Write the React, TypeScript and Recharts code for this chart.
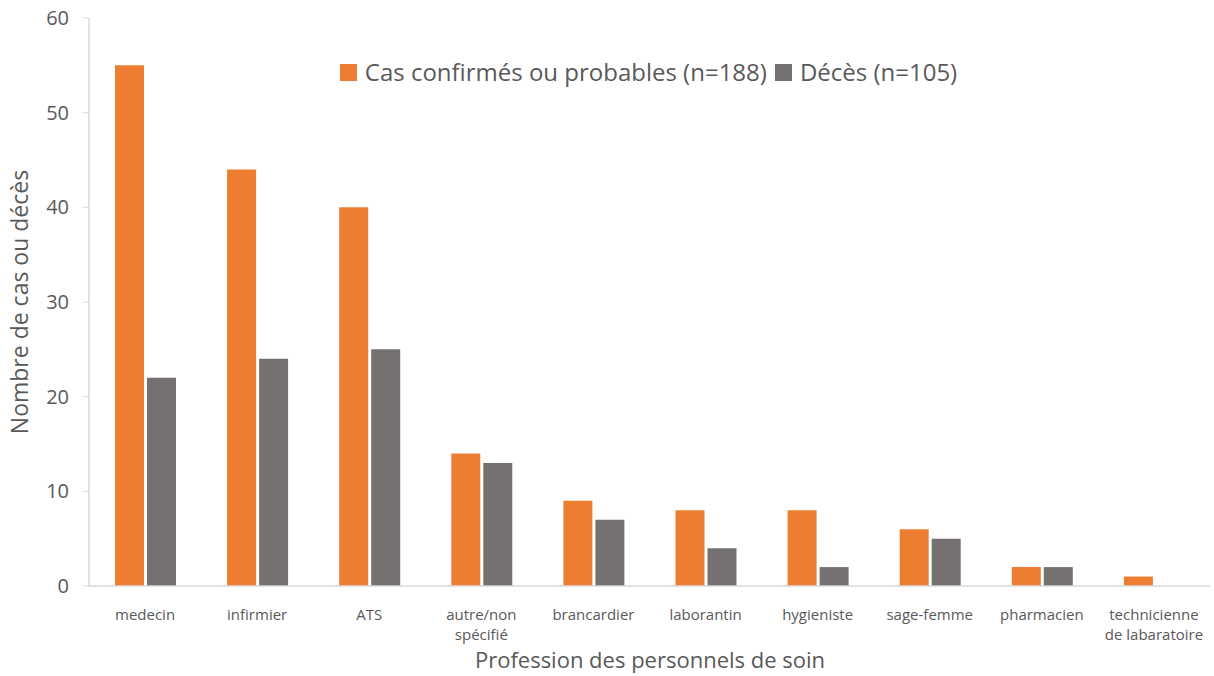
import { BarChart, Bar, XAxis, YAxis } from "recharts";

const professions = [
  "medecin",
  "infirmier",
  "ATS",
  "autre/non\nspécifié",
  "brancardier",
  "laborantin",
  "hygieniste",
  "sage-femme",
  "pharmacien",
  "technicienne\nde labaratoire",
];
const casConfirmes = [55, 44, 40, 14, 9, 8, 8, 6, 2, 1];
const deces = [22, 24, 25, 13, 7, 4, 2, 5, 2, 0];
const yTicks = [0, 10, 20, 30, 40, 50, 60];

const ORANGE = "#ED7D31";
const GREY = "#767171";
const TEXT = "#595959";
const FONT = "'Open Sans', sans-serif";

const data = professions.map((p, i) => ({
  profession: p,
  cas: casConfirmes[i],
  deces: deces[i],
}));

function CategoryTick({ x, y, payload }: any) {
  const lines = String(payload.value).split("\n");
  return (
    <text x={x} y={y + 26} textAnchor="middle" fill={TEXT} fontSize={15} fontFamily={FONT}>
      {lines.map((l, i) => (
        <tspan key={i} x={x} dy={i === 0 ? 0 : 20}>
          {l}
        </tspan>
      ))}
    </text>
  );
}

const legendItems = [
  { label: "Cas confirmés ou probables (n=188)", color: ORANGE },
  { label: "Décès (n=105)", color: GREY },
];

export default function App() {
  return (
    <div
      style={{
        position: "absolute",
        top: 0,
        left: 0,
        background: "#fff",
        width: 1214,
        height: 676,
        overflow: "hidden",
      }}
    >
      <BarChart
        width={1214}
        height={676}
        data={data}
        margin={{ top: 18, right: 4, bottom: 0, left: 0 }}
        barSize={29}
        barGap={3}
      >
        <XAxis
          dataKey="profession"
          height={90}
          axisLine={{ stroke: "#D9D9D9", strokeWidth: 1.5 }}
          tickLine={false}
          interval={0}
          tick={<CategoryTick />}
        />
        <YAxis
          width={89}
          domain={[0, 60]}
          ticks={yTicks}
          axisLine={{ stroke: "#D9D9D9", strokeWidth: 1.5 }}
          tickLine={{ stroke: "#D9D9D9" }}
          tickSize={6}
          tickMargin={14}
          tick={{ fill: TEXT, fontSize: 20, fontFamily: FONT }}
        />
        <Bar dataKey="cas" fill={ORANGE} isAnimationActive={false} />
        <Bar dataKey="deces" fill={GREY} isAnimationActive={false} />
      </BarChart>
      <svg width={1214} height={676} style={{ position: "absolute", top: 0, left: 0, pointerEvents: "none" }}>
        <text
          transform="translate(28, 302) rotate(-90)"
          textAnchor="middle"
          fill={TEXT}
          fontSize={23}
          fontFamily={FONT}
        >
          Nombre de cas ou décès
        </text>
        <text x={650} y={668} textAnchor="middle" fill={TEXT} fontSize={22} fontFamily={FONT}>
          Profession des personnels de soin
        </text>
      </svg>
      <div
        style={{
          position: "absolute",
          top: 56,
          left: 0,
          width: 1214,
          paddingLeft: 83,
          boxSizing: "border-box",
          display: "flex",
          justifyContent: "center",
          gap: 8,
          fontFamily: FONT,
          fontSize: 24,
          color: TEXT,
          lineHeight: "32px",
        }}
      >
        {legendItems.map((it) => (
          <div key={it.label} style={{ display: "flex", alignItems: "center", gap: 8 }}>
            <span style={{ width: 17, height: 17, background: it.color, display: "inline-block" }} />
            {it.label}
          </div>
        ))}
      </div>
    </div>
  );
}
